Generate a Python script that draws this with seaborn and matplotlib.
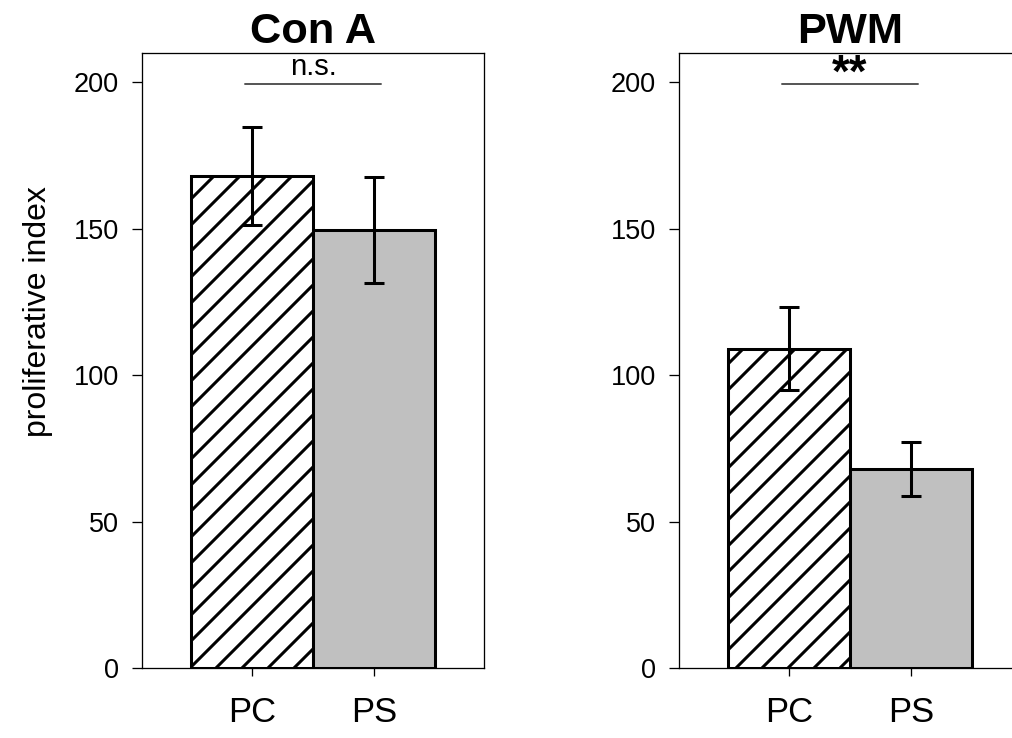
import numpy as np
import pandas as pd
import seaborn as sns
import matplotlib.pyplot as plt

# --- data ---
panels = ['Con A', 'PWM']
groups = ['PC', 'PS']
conA_mean = [168.0, 149.5]
conA_err = [16.7, 18.0]
pwm_mean = [109.0, 68.0]
pwm_err = [14.2, 9.2]
sig_labels = ['n.s.', '**']
sig_level = 199.5
yticks = [0, 50, 100, 150, 200]

means = [conA_mean, pwm_mean]
errs = [conA_err, pwm_err]

sns.set_theme(style='ticks')
plt.rcParams['font.family'] = ['Liberation Sans', 'DejaVu Sans']
plt.rcParams['hatch.linewidth'] = 1.4
plt.rcParams['hatch.color'] = 'black'
for k in ['text.color', 'axes.labelcolor', 'xtick.color', 'ytick.color',
          'xtick.labelcolor', 'ytick.labelcolor', 'axes.edgecolor']:
    plt.rcParams[k] = 'black'

DPI = 156
fig = plt.figure(figsize=(1012 / DPI, 738 / DPI), dpi=DPI)
positions = [
    [142 / 1012, 70 / 738, 342 / 1012, 615 / 738],
    [679 / 1012, 70 / 738, 342 / 1012, 615 / 738],
]

for i, panel in enumerate(panels):
    ax = fig.add_axes(positions[i])
    df = pd.DataFrame({'group': groups, 'value': means[i]})
    sns.barplot(data=df, x='group', y='value', hue='group',
                palette=['white', '#c0c0c0'], edgecolor='black',
                linewidth=1.4, width=1.0, errorbar=None, legend=False,
                saturation=1, ax=ax)
    ax.patches[0].set_hatch('//')

    ax.errorbar(range(len(groups)), means[i], yerr=errs[i], fmt='none',
                ecolor='black', elinewidth=1.4, capsize=4.6, capthick=1.4,
                zorder=5)

    # significance bar
    ax.plot([-0.06, 1.06], [sig_level, sig_level], color='#555555', lw=0.9)
    if sig_labels[i] == '**':
        ax.text(0.5, 198.4, sig_labels[i], ha='center', va='baseline',
                fontsize=21, fontweight='bold', color='black', zorder=6)
    else:
        ax.text(0.5, 200.3, sig_labels[i], ha='center', va='bottom',
                fontsize=13.5, color='black')

    ax.set_xlim(-0.9, 1.9)
    ax.set_ylim(0, 210)
    ax.set_yticks(yticks)
    for s in ax.spines.values():
        s.set_visible(True)
        s.set_linewidth(0.6)
        s.set_color('black')
    ax.tick_params(axis='y', direction='out', length=4.6, width=0.6,
                   pad=6, labelsize=12.5, colors='black')
    ax.tick_params(axis='x', direction='out', length=3.5, width=0.6,
                   pad=9.5, labelsize=16, colors='black')
    ax.set_xlabel('')
    ax.set_title(panel, fontsize=20, fontweight='bold', pad=4.6,
                 color='black')
    if i == 0:
        ax.set_ylabel('proliferative index', fontsize=14.8, color='black')
        ax.yaxis.set_label_coords(-0.26, 0.579)
    else:
        ax.set_ylabel('')

fig.savefig('out.png', dpi=DPI)
